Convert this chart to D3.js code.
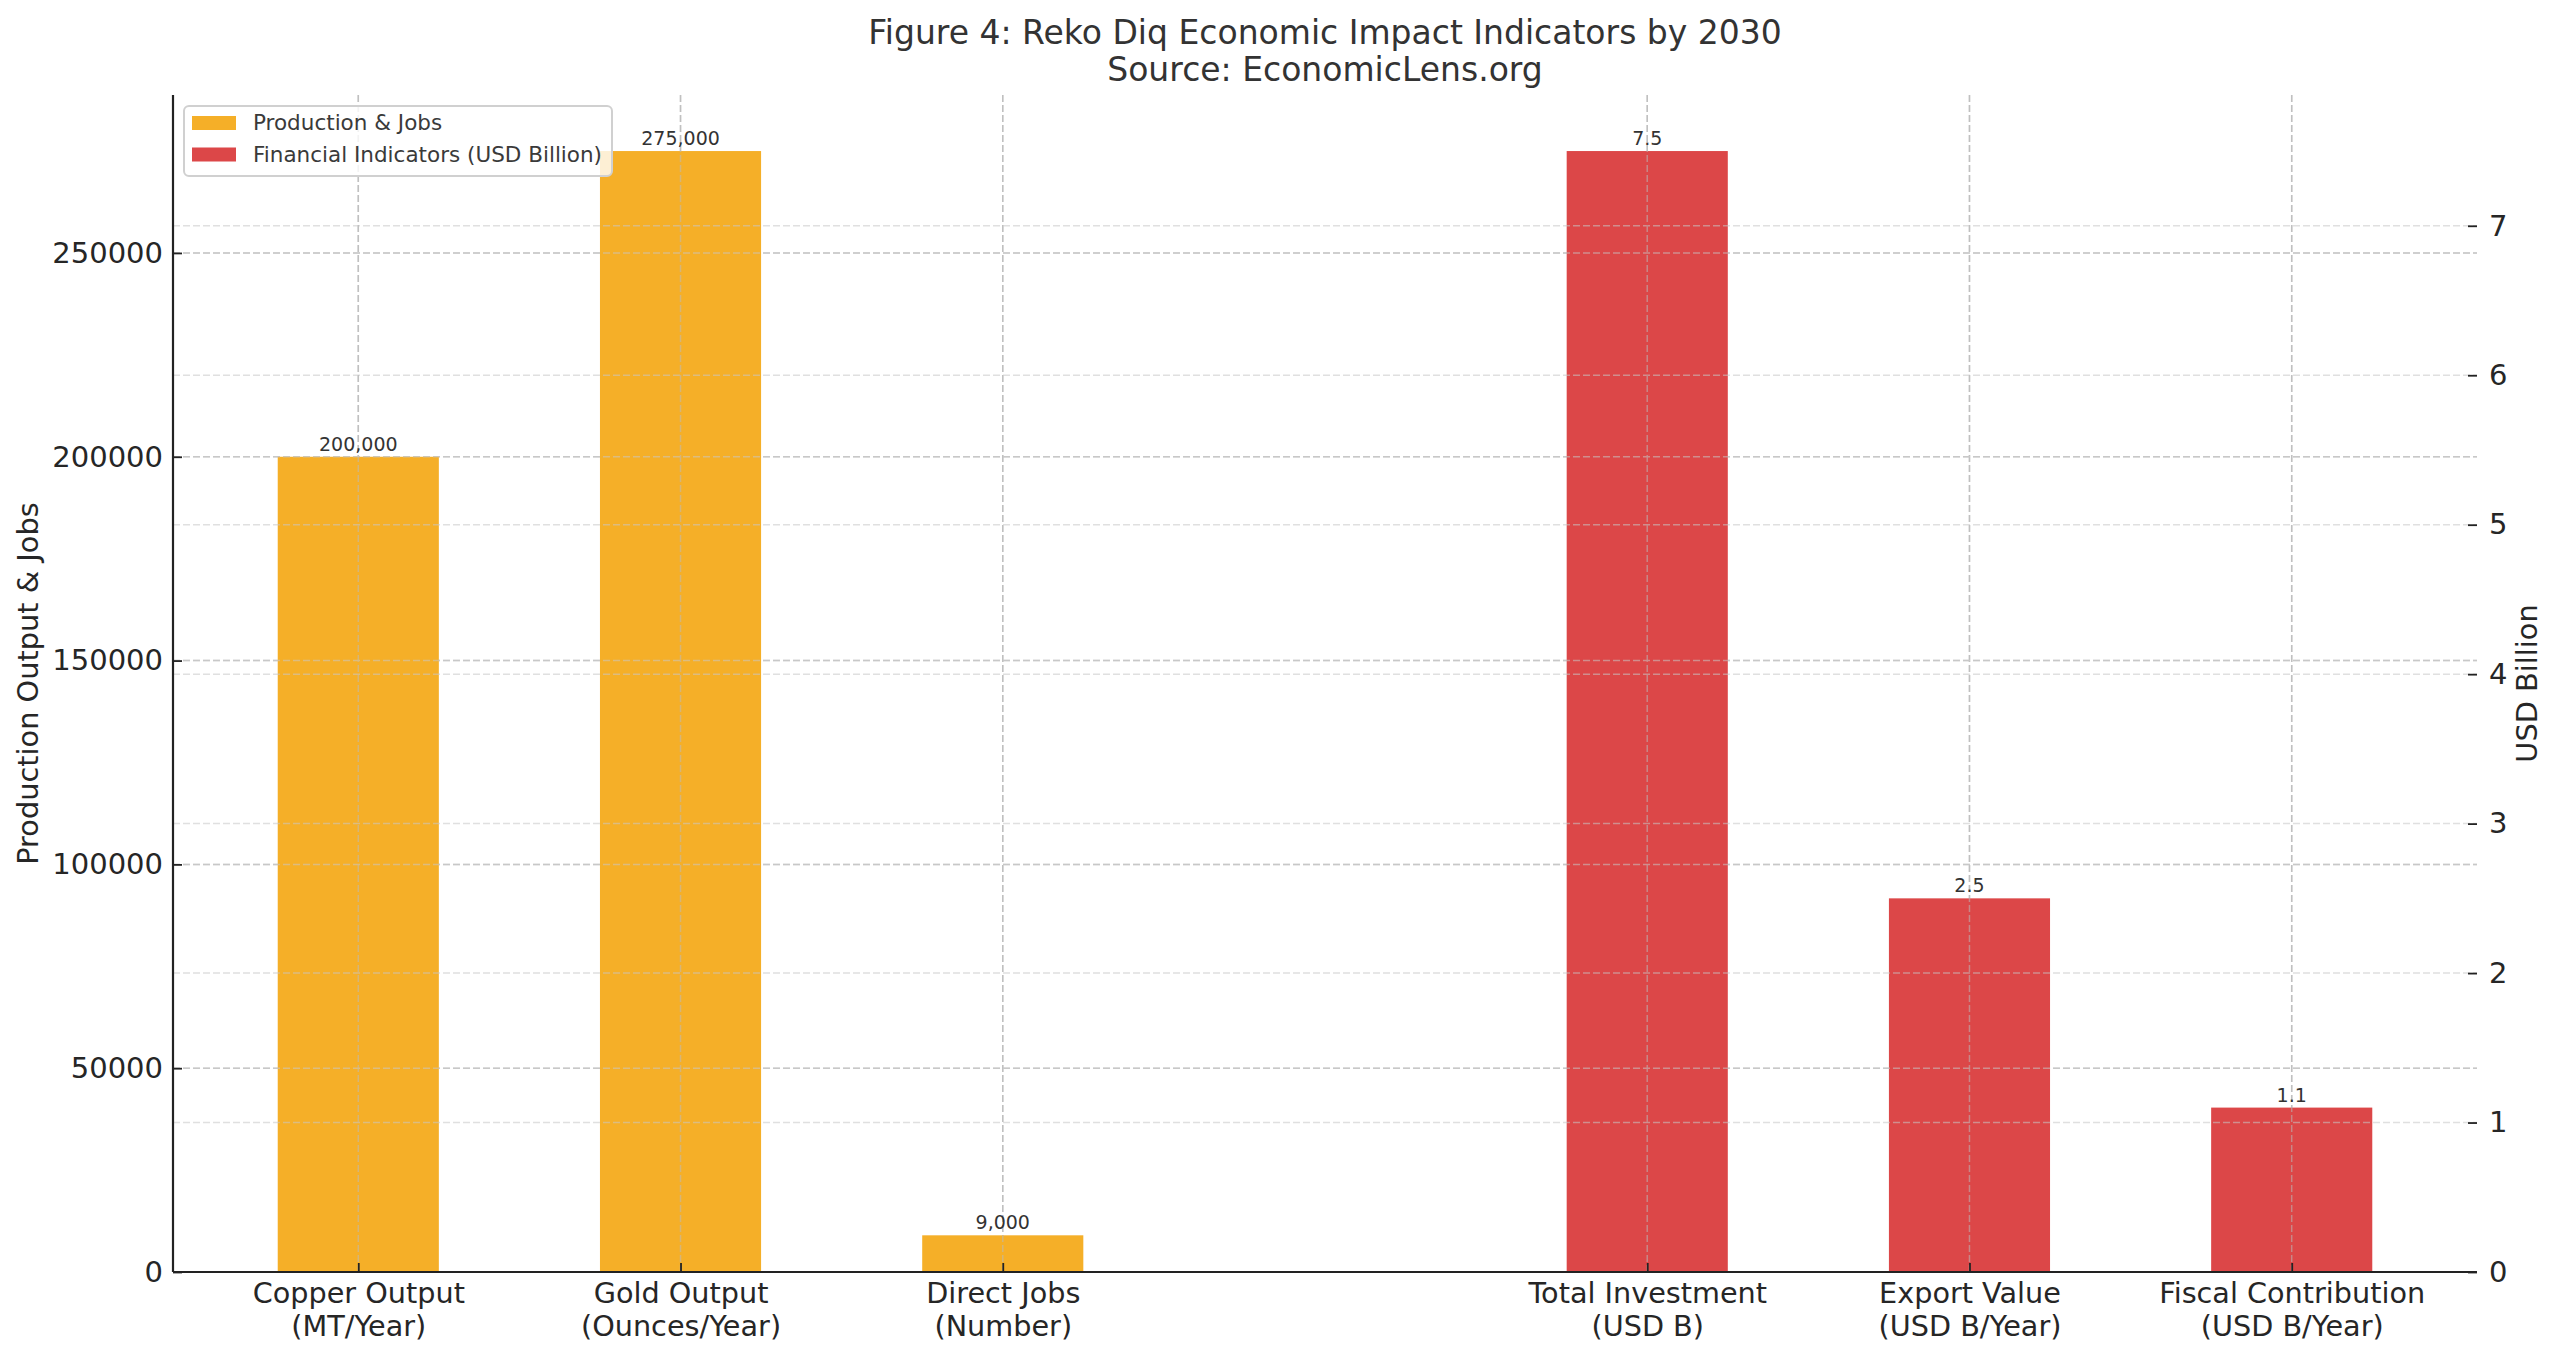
<!DOCTYPE html>
<html>
<head>
<meta charset="utf-8">
<script src="https://cdn.jsdelivr.net/npm/d3@7"></script>
<style>
  html, body { margin: 0; padding: 0; background: #fff; }
  svg { display: block; font-family: "DejaVu Sans", sans-serif; }
</style>
</head>
<body>
<svg id="chart" width="2560" height="1358"></svg>
<script>
// ---- data ----
const titleLines = ["Figure 4: Reko Diq Economic Impact Indicators by 2030", "Source: EconomicLens.org"];
const prodCategories = ["Copper Output\n(MT/Year)", "Gold Output\n(Ounces/Year)", "Direct Jobs\n(Number)"];
const prodValues = [200000, 275000, 9000];
const finCategories = ["Total Investment\n(USD B)", "Export Value\n(USD B/Year)", "Fiscal Contribution\n(USD B/Year)"];
const finValues = [7.5, 2.5, 1.1];
const leftTicks = [0, 50000, 100000, 150000, 200000, 250000];
const rightTicks = [0, 1, 2, 3, 4, 5, 6, 7];
const seriesNames = ["Production & Jobs", "Financial Indicators (USD Billion)"];
const leftLabel = "Production Output & Jobs";
const rightLabel = "USD Billion";

// ---- layout ----
const W = 2560, H = 1358;
const M = { left: 173, right: 2477, top: 95, bottom: 1272 };
const colors = { prod: "#F5AF28", fin: "#DC4748" };
const gridColor = "#c8c8c8";
const textColor = "#262626";

const svg = d3.select("#chart");

const items = [
  ...prodCategories.map((c, i) => ({ cat: c, v: prodValues[i], pos: i, group: "prod" })),
  ...finCategories.map((c, i) => ({ cat: c, v: finValues[i], pos: prodCategories.length + 1 + i, group: "fin" }))
];
const maxPos = prodCategories.length + finCategories.length;
const barW = 0.5;
const lo = -barW / 2, hi = maxPos + barW / 2, padX = (hi - lo) * 0.05;

const x = d3.scaleLinear().domain([lo - padX, hi + padX]).range([M.left, M.right]);
const yL = d3.scaleLinear().domain([0, d3.max(prodValues) * 1.05]).range([M.bottom, M.top]);
const yR = d3.scaleLinear().domain([0, d3.max(finValues) * 1.05]).range([M.bottom, M.top]);

const dash = "7,3";

// ---- grids ----
const grid = svg.append("g");
grid.selectAll("line.gl").data(leftTicks).join("line")
  .attr("x1", M.left).attr("x2", M.right)
  .attr("y1", d => yL(d)).attr("y2", d => yL(d))
  .attr("stroke", gridColor).attr("stroke-width", 1.5).attr("stroke-dasharray", dash);
grid.selectAll("line.gx").data(items).join("line")
  .attr("x1", d => x(d.pos)).attr("x2", d => x(d.pos))
  .attr("y1", M.top).attr("y2", M.bottom)
  .attr("stroke", gridColor).attr("stroke-width", 1.5).attr("stroke-dasharray", dash);

// ---- bars ----
const bars = svg.append("g");
bars.selectAll("rect").data(items).join("rect")
  .attr("x", d => x(d.pos - barW / 2))
  .attr("width", d => x(d.pos + barW / 2) - x(d.pos - barW / 2))
  .attr("y", d => d.group === "prod" ? yL(d.v) : yR(d.v))
  .attr("height", d => M.bottom - (d.group === "prod" ? yL(d.v) : yR(d.v)))
  .attr("fill", d => colors[d.group]);

// grid over bars (faint)
const grid2 = svg.append("g").attr("opacity", 0.55);
grid2.selectAll("line.gr").data(rightTicks).join("line")
  .attr("x1", M.left).attr("x2", M.right)
  .attr("y1", d => yR(d)).attr("y2", d => yR(d))
  .attr("stroke", gridColor).attr("stroke-width", 1.5).attr("stroke-dasharray", dash);
grid2.selectAll("line.gx2").data(items).join("line")
  .attr("x1", d => x(d.pos)).attr("x2", d => x(d.pos))
  .attr("y1", M.top).attr("y2", M.bottom)
  .attr("stroke", "#bbbbbb").attr("stroke-width", 1.5).attr("stroke-dasharray", dash);
grid2.selectAll("line.gl2").data(leftTicks).join("line")
  .attr("x1", M.left).attr("x2", M.right)
  .attr("y1", d => yL(d)).attr("y2", d => yL(d))
  .attr("stroke", gridColor).attr("stroke-width", 1.5).attr("stroke-dasharray", dash);

// ---- value labels ----
svg.append("g").selectAll("text").data(items).join("text")
  .attr("x", d => x(d.pos))
  .attr("y", d => (d.group === "prod" ? yL(d.v) : yR(d.v)) - 6)
  .attr("text-anchor", "middle")
  .attr("font-size", 19)
  .attr("fill", "#333")
  .text(d => d.group === "prod" ? d3.format(",")(d.v) : d3.format(".1f")(d.v));

// ---- axes ----
const axL = svg.append("g").attr("transform", `translate(${M.left},0)`)
  .call(d3.axisLeft(yL).tickValues(leftTicks).tickFormat(d3.format("d")).tickSizeInner(-9).tickSizeOuter(0).tickPadding(10));
axL.select(".domain").attr("stroke", "#222").attr("stroke-width", 2.2).attr("d", `M0,${M.top}V${M.bottom}`);
axL.selectAll(".tick line").attr("stroke", "#222").attr("stroke-width", 1.8);
axL.selectAll(".tick text").attr("font-size", 29).attr("fill", textColor).attr("font-family", "DejaVu Sans");

const axR = svg.append("g").attr("transform", `translate(${M.right},0)`)
  .call(d3.axisRight(yR).tickValues(rightTicks).tickFormat(d3.format("d")).tickSizeInner(-9).tickSizeOuter(0).tickPadding(12));
axR.select(".domain").remove();
axR.selectAll(".tick line").attr("stroke", "#222").attr("stroke-width", 1.8);
axR.selectAll(".tick text").attr("font-size", 29).attr("fill", textColor).attr("font-family", "DejaVu Sans");

const axB = svg.append("g").attr("transform", `translate(0,${M.bottom})`)
  .call(d3.axisBottom(x).tickValues(items.map(d => d.pos)).tickFormat("").tickSizeInner(-9).tickSizeOuter(0));
axB.select(".domain").attr("stroke", "#222").attr("stroke-width", 2.2).attr("d", `M${M.left},0H${M.right}`);
axB.selectAll(".tick line").attr("stroke", "#222").attr("stroke-width", 1.8);
axB.selectAll(".tick").each(function(p) {
  const it = items.find(d => d.pos === p);
  const t = d3.select(this).append("text").attr("fill", textColor).attr("font-size", 28.7)
    .attr("text-anchor", "middle").attr("font-family", "DejaVu Sans");
  it.cat.split("\n").forEach((ln, i) => {
    t.append("tspan").attr("x", 0).attr("y", 31 + i * 33).text(ln);
  });
});

// ---- axis titles ----
svg.append("text")
  .attr("transform", `translate(38,${(M.top + M.bottom) / 2}) rotate(-90)`)
  .attr("text-anchor", "middle").attr("font-size", 28.8).attr("fill", textColor)
  .text(leftLabel);
svg.append("text")
  .attr("transform", `translate(2537,${(M.top + M.bottom) / 2}) rotate(-90)`)
  .attr("text-anchor", "middle").attr("font-size", 28.8).attr("fill", textColor)
  .text(rightLabel);

// ---- title ----
svg.append("g").selectAll("text").data(titleLines).join("text")
  .attr("x", (M.left + M.right) / 2)
  .attr("y", (d, i) => 44 + i * 37)
  .attr("text-anchor", "middle").attr("font-size", 33).attr("fill", "#333")
  .text(d => d);

// ---- legend ----
const lg = svg.append("g").attr("transform", "translate(184,106)");
lg.append("rect").attr("width", 428).attr("height", 70).attr("rx", 5)
  .attr("fill", "#fff").attr("fill-opacity", 0.8).attr("stroke", "#d0d0d0").attr("stroke-width", 2);
const lgItems = [{ n: seriesNames[0], c: colors.prod }, { n: seriesNames[1], c: colors.fin }];
const li = lg.selectAll("g.li").data(lgItems).join("g").attr("transform", (d, i) => `translate(8,${10 + i * 31.5})`);
li.append("rect").attr("width", 44).attr("height", 14).attr("fill", d => d.c);
li.append("text").attr("x", 61).attr("y", 14).attr("font-size", 21.5).attr("fill", "#3a3a3a").text(d => d.n);
</script>
</body>
</html>
